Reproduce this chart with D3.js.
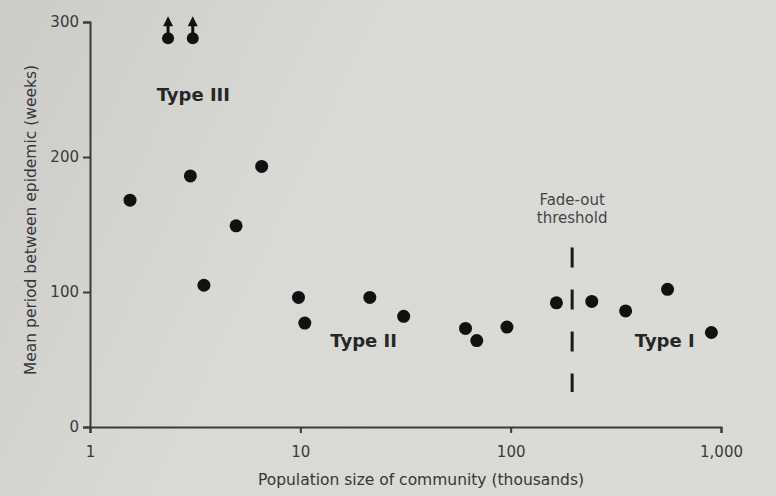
<!DOCTYPE html>
<html>
<head>
<meta charset="utf-8">
<script src="https://cdn.jsdelivr.net/npm/d3@7"></script>
<style>
  body { margin: 0; background: #d8d8d4; }
  svg { display: block; font-family: "DejaVu Sans", "Liberation Sans", Arial, sans-serif; }
</style>
</head>
<body>
<svg id="chart" width="776" height="496"></svg>
<script>
// community population (thousands) and mean period between epidemics (weeks)
var popSizes = [1.55, 3.0, 3.48, 4.95, 6.55, 9.8, 10.5, 21.4, 31, 61, 69, 96, 165, 243, 352, 557, 900];
var periods  = [168, 186, 105, 149, 193, 96, 77, 96, 82, 73, 64, 74, 92, 93, 86, 102, 70];

// communities whose period is off the top of the scale (drawn with arrows)
var offScalePops = [2.35, 3.08];
var offScaleShown = 288;

var xTickValues = [1, 10, 100, 1000];
var xTickLabels = ["1", "10", "100", "1,000"];
var yTickValues = [0, 100, 200, 300];

var threshold = 196;           // fade-out threshold (thousands)
var thresholdSpan = [26, 133]; // extent of the dashed marker (weeks)

var typeLabels = [
	{ text: "Type III", x: 3.1, y: 246 },
	{ text: "Type II", x: 20, y: 64 },
	{ text: "Type I", x: 540, y: 64 }
];

var svg = d3.select("#chart");
var W = 776, H = 496;

// paper-like background
var defs = svg.append("defs");
var grad = defs.append("linearGradient").attr("id", "paper")
	.attr("x1", "0").attr("y1", "0").attr("x2", "1").attr("y2", "0.3");
grad.append("stop").attr("offset", "0").attr("stop-color", "#cbcbc8");
grad.append("stop").attr("offset", "0.45").attr("stop-color", "#d9d9d5");
grad.append("stop").attr("offset", "1").attr("stop-color", "#dadad6");
svg.append("rect").attr("width", W).attr("height", H).attr("fill", "url(#paper)");

var x = d3.scaleLog().domain([1, 1000]).range([90, 721]);
var y = d3.scaleLinear().domain([0, 300]).range([427, 22]);

var ink = "#262626";

// axes
var xAxis = svg.append("g")
	.attr("transform", "translate(0," + y(0) + ")")
	.call(d3.axisBottom(x).tickValues(xTickValues)
		.tickFormat(function(d, i) { return xTickLabels[i]; })
		.tickSize(6).tickPadding(13));
var yAxis = svg.append("g")
	.attr("transform", "translate(" + x(1) + ",0)")
	.call(d3.axisLeft(y).tickValues(yTickValues).tickSize(7).tickPadding(4));

[xAxis, yAxis].forEach(function(g) {
	g.select(".domain").attr("stroke", "#3a3a3a").attr("stroke-width", 2);
	g.selectAll(".tick line").attr("stroke", "#3a3a3a").attr("stroke-width", 2);
	g.selectAll(".tick text").attr("fill", "#3a3a3a").attr("font-size", 15)
		.attr("font-family", "DejaVu Sans");
});

// axis titles
svg.append("text")
	.attr("x", 421).attr("y", 485)
	.attr("text-anchor", "middle")
	.attr("font-size", 15.5).attr("fill", "#363636")
	.text("Population size of community (thousands)");
svg.append("text")
	.attr("transform", "translate(36," + 220 + ") rotate(-90)")
	.attr("text-anchor", "middle")
	.attr("font-size", 15.5).attr("fill", "#363636")
	.text("Mean period between epidemic (weeks)");

// fade-out threshold
svg.append("line")
	.attr("x1", x(threshold)).attr("x2", x(threshold))
	.attr("y1", y(thresholdSpan[1])).attr("y2", y(thresholdSpan[0]))
	.attr("stroke", "#1a1a1a").attr("stroke-width", 3)
	.attr("stroke-dasharray", "20,22");
svg.append("text")
	.attr("x", x(threshold)).attr("y", 205)
	.attr("text-anchor", "middle")
	.attr("font-size", 15).attr("fill", "#454545")
	.text("Fade-out");
svg.append("text")
	.attr("x", x(threshold)).attr("y", 223)
	.attr("text-anchor", "middle")
	.attr("font-size", 15).attr("fill", "#454545")
	.text("threshold");

// type labels
svg.selectAll("text.type")
	.data(typeLabels)
	.enter()
		.append("text")
		.attr("class", "type")
		.attr("x", function(d) { return x(d.x); })
		.attr("y", function(d) { return y(d.y); })
		.attr("text-anchor", "middle")
		.attr("dominant-baseline", "central")
		.attr("font-size", 18).attr("font-weight", "bold").attr("fill", ink)
		.text(function(d) { return d.text; });

// points
var data = popSizes.map(function(v, i) { return [v, periods[i]]; });
svg.append("g").selectAll("circle")
	.data(data)
	.enter()
		.append("circle")
		.attr("cx", function(d) { return x(d[0]); })
		.attr("cy", function(d) { return y(d[1]); })
		.attr("r", 6.5)
		.attr("fill", "#111");

// off-scale points with upward arrows
var off = svg.append("g").selectAll("g")
	.data(offScalePops)
	.enter()
		.append("g")
		.attr("transform", function(d) { return "translate(" + x(d) + "," + y(offScaleShown) + ")"; });
off.append("circle").attr("r", 6).attr("fill", "#111");
off.append("line")
	.attr("x1", 0).attr("x2", 0).attr("y1", 0).attr("y2", -16)
	.attr("stroke", "#111").attr("stroke-width", 3);
off.append("path")
	.attr("d", "M-5,-12 L0,-22 L5,-12 Z")
	.attr("fill", "#111");
</script>
</body>
</html>
